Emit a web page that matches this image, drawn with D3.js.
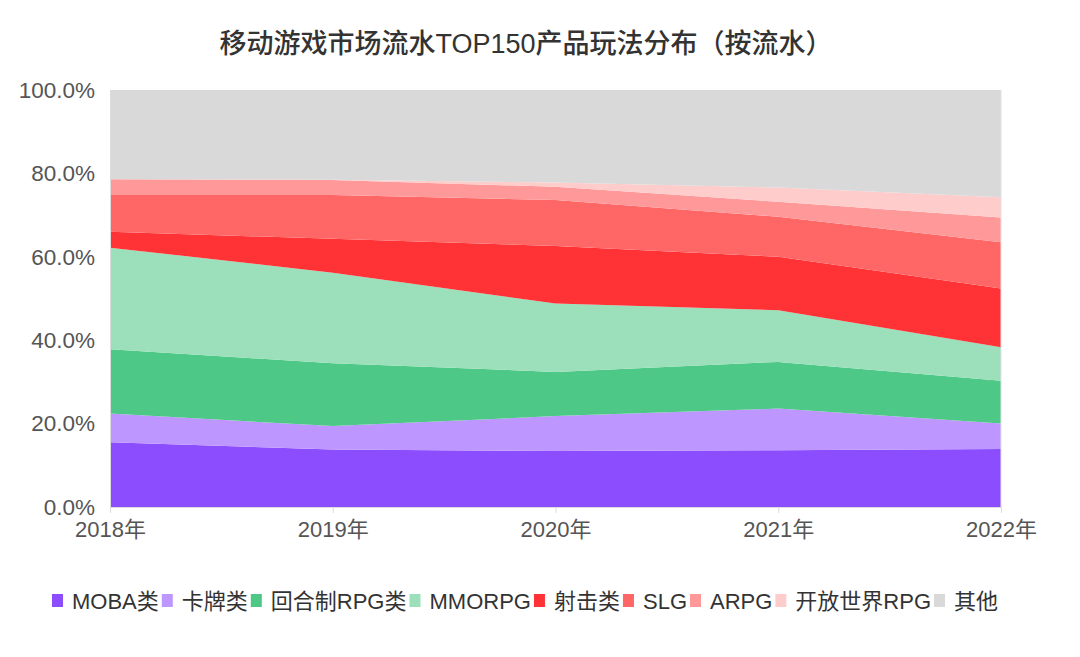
<!DOCTYPE html>
<html><head><meta charset="utf-8">
<script src="https://cdn.jsdelivr.net/npm/d3@7/dist/d3.min.js"></script>
<style>
body{margin:0;background:#fff;}
text{font-family:"Liberation Sans","Noto Sans CJK SC",sans-serif;}
</style></head>
<body><svg id="c" width="1080" height="657"></svg>
<script>
const years = ["2018年","2019年","2020年","2021年","2022年"];
const seriesNames = ["MOBA类","卡牌类","回合制RPG类","MMORPG","射击类","SLG","ARPG","开放世界RPG","其他"];
const moba    = [15.5, 13.8, 13.4, 13.6, 13.9];
const card    = [ 6.9,  5.6,  8.4, 10.0,  6.1];
const turnRPG = [15.4, 15.1, 10.6, 11.2, 10.3];
const mmorpg  = [24.4, 21.7, 16.4, 12.4,  8.0];
const shooter = [ 3.8,  8.1, 13.8, 12.8, 14.1];
const slg     = [ 8.8, 10.5, 11.0,  9.6, 11.1];
const arpg    = [ 3.8,  3.6,  3.2,  3.6,  5.9];
const openWorld=[ 0.0,  0.1,  1.0,  3.4,  4.9];
const others  = [21.4, 21.5, 22.2, 23.4, 25.7];
const yTicks = [0,20,40,60,80,100];
const colors = ["#8c4dff","#bd97ff","#4ec886","#9bdfbb","#ff3336","#ff6666","#ff9999","#ffcccc","#d9d9d9"];

const allSeries = [moba,card,turnRPG,mmorpg,shooter,slg,arpg,openWorld,others];
const table = years.map((y,i)=>{const o={year:y}; seriesNames.forEach((n,k)=>o[n]=allSeries[k][i]); return o;});

const svg = d3.select("#c");
const L=110,R=1001,T=90,B=507;
const x = d3.scalePoint().domain(years).range([L,R]);
const y = d3.scaleLinear().domain([0,100]).range([B,T]);
const stack = d3.stack().keys(seriesNames)(table);
const area = d3.area().x(d=>x(d.data.year)).y0(d=>y(d[0])).y1(d=>y(d[1]));

svg.append("g").selectAll("path").data(stack).join("path")
  .attr("d",area).attr("fill",(d,i)=>colors[i]);

// axes
const xa = svg.append("g").attr("transform",`translate(0,${B})`)
  .call(d3.axisBottom(x).tickSize(6).tickPadding(8));
xa.select(".domain").attr("stroke","#dcdcdc");
xa.selectAll(".tick line").attr("stroke","#dcdcdc");
xa.selectAll("text").attr("fill","#555").attr("font-size",22);

const ya = svg.append("g").attr("transform",`translate(${L},0)`)
  .call(d3.axisLeft(y).tickValues(yTicks).tickSize(0).tickPadding(15).tickFormat(d=>d.toFixed(1)+"%"));
ya.select(".domain").attr("stroke","#dcdcdc");
ya.selectAll("text").attr("fill","#555").attr("font-size",22.5);

svg.append("line").attr("x1",R).attr("x2",R).attr("y1",T).attr("y2",B).attr("stroke","#e2e2e2");

// title
svg.append("text").attr("x",526).attr("y",53).attr("text-anchor","middle")
  .attr("font-size",27).attr("font-weight",500).attr("fill","#333")
  .text("移动游戏市场流水TOP150产品玩法分布（按流水）");

// legend
const lg = svg.append("g").attr("transform","translate(0,601)");
let cx = 52;
seriesNames.forEach((n,i)=>{
  lg.append("rect").attr("x",cx).attr("y",-7).attr("width",11).attr("height",13).attr("fill",colors[i]);
  const t = lg.append("text").attr("x",cx+20).attr("y",8).attr("font-size",22).attr("fill","#333").text(n);
  cx += 20 + t.node().getComputedTextLength() + 3;
});
</script></body></html>
